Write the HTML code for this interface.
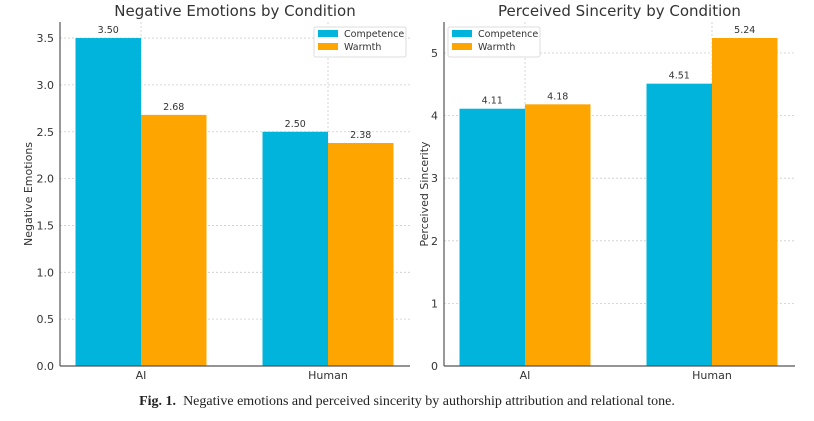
<!DOCTYPE html>
<html><head><meta charset="utf-8"><style>
body{margin:0;background:#fff;width:814px;height:421px;overflow:hidden}
svg text{font-family:"DejaVu Sans","Liberation Sans",sans-serif;fill:#333}
.cap{position:absolute;left:0;top:394px;width:814px;text-align:center;font-family:"Liberation Serif",serif;font-size:14px;color:#222}
</style></head><body>
<svg id="chart" width="814" height="421" style="position:absolute;left:0;top:0"></svg>
<div class="cap"><b>Fig. 1.</b>&nbsp; Negative emotions and perceived sincerity by authorship attribution and relational tone.</div>
<script>
const categories=["AI","Human"];
const negCompetence=[3.50,2.50];
const negWarmth=[2.68,2.38];
const sinCompetence=[4.11,4.51];
const sinWarmth=[4.18,5.24];
const negTicks=[0,0.5,1.0,1.5,2.0,2.5,3.0,3.5];
const sinTicks=[0,1,2,3,4,5];
const svg=document.getElementById('chart');
const NS='http://www.w3.org/2000/svg';
function mk(t,a,txt){const e=document.createElementNS(NS,t);for(const k in a)e.setAttribute(k,a[k]);if(txt!==undefined)e.textContent=txt;svg.appendChild(e);return e;}
function panel(o){
 const y=v=>o.y0-v*o.ppu;
 const x=i=>o.c0+i*o.gap;
 o.ticks.forEach(t=>{
  const g=mk('line',{x1:o.x0,x2:o.x1,y1:y(t),y2:y(t),stroke:'#ccc','stroke-dasharray':'2,2','stroke-width':0.8});
  
  const l=mk('text',{x:o.x0-6,y:y(t)+4,'text-anchor':'end','font-size':11},o.fmt(t));
  
 });
 categories.forEach((c,i)=>{
  const g=mk('line',{x1:x(i),x2:x(i),y1:22,y2:o.y0,stroke:'#ccc','stroke-dasharray':'2,2','stroke-width':0.8});
  
  const l=mk('text',{x:x(i),y:o.y0+13,'text-anchor':'middle','font-size':11},c);
  
  [[o.a,'#00b4dc',-1,'competence'],[o.b,'#ffa500',0,'warmth']].forEach(([arr,col,off,nm])=>{
   const v=arr[i];
   const r=mk('rect',{x:x(i)+off*o.bw,y:y(v),width:o.bw,height:v*o.ppu,fill:col});
   
   const t=mk('text',{x:x(i)+off*o.bw+o.bw/2,y:y(v)-5,'text-anchor':'middle','font-size':9.5},v.toFixed(2));
   
  });
 });
 const ax=mk('line',{x1:o.x0,x2:o.x0,y1:22,y2:o.y0,stroke:'#555','stroke-width':1.2});
 
 const bx=mk('line',{x1:o.x0,x2:o.x1,y1:o.y0,y2:o.y0,stroke:'#555','stroke-width':1.2});
 
 const tt=mk('text',{x:(o.x0+o.x1)/2,y:16,'text-anchor':'middle','font-size':15},o.title);
 
 const yt=mk('text',{x:0,y:0,'text-anchor':'middle','font-size':11,transform:`translate(${o.ytx},${(22+o.y0)/2}) rotate(-90)`},o.ytitle);
 
 const lb=mk('rect',{x:o.lx,y:27,width:92,height:30,fill:'#fff',stroke:'#ddd',rx:2});
 
 [['#00b4dc','Competence',0],['#ffa500','Warmth',1]].forEach(([c,n,k])=>{
  const s=mk('rect',{x:o.lx+4,y:30+k*13,width:20,height:7,fill:c});
  
  const t=mk('text',{x:o.lx+30,y:37+k*13,'font-size':9.5},n);
  
 });
}
panel({x0:60,x1:410,y0:366,ppu:93.7,c0:141,gap:187,bw:65.5,ticks:negTicks,fmt:t=>t.toFixed(1),a:negCompetence,b:negWarmth,title:'Negative Emotions by Condition',ytitle:'Negative Emotions',ytx:32,lx:314});
panel({x0:444,x1:795,y0:366,ppu:62.6,c0:525,gap:187,bw:65.5,ticks:sinTicks,fmt:t=>String(t),a:sinCompetence,b:sinWarmth,title:'Perceived Sincerity by Condition',ytitle:'Perceived Sincerity',ytx:428,lx:448});
</script>
</body></html>
